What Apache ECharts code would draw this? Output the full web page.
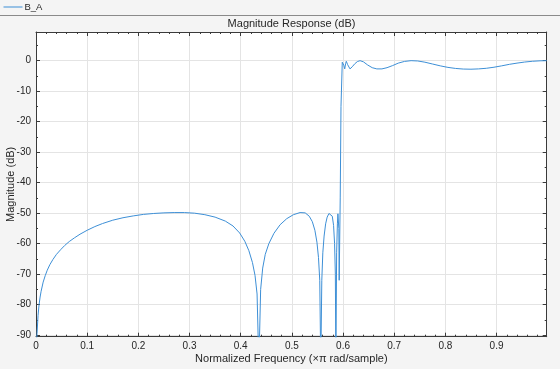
<!DOCTYPE html>
<html>
<head>
<meta charset="utf-8">
<script src="https://cdn.jsdelivr.net/npm/echarts@6/dist/echarts.min.js"></script>
<style>
html,body{margin:0;padding:0;background:#f4f4f4;}
#chart{width:560px;height:369px;}
</style>
</head>
<body>
<div id="chart"></div>
<script>
// ---- data ----
const seriesName = 'B_A';
const freq = [
  0, 0.002, 0.004, 0.006, 0.008, 0.010, 0.014, 0.018, 0.022, 0.027,
  0.033, 0.040, 0.048, 0.056, 0.065, 0.075, 0.086, 0.100, 0.115, 0.130,
  0.150, 0.170, 0.190, 0.210, 0.230, 0.250, 0.270, 0.290, 0.310, 0.330,
  0.350, 0.370, 0.385, 0.398, 0.408, 0.416, 0.423, 0.428, 0.432, 0.4355,
  0.439, 0.443, 0.448, 0.455, 0.465, 0.477, 0.490, 0.503, 0.516, 0.526,
  0.534, 0.540, 0.545, 0.549, 0.552, 0.5545, 0.5565, 0.5585, 0.5605, 0.563,
  0.566, 0.569, 0.5725, 0.576, 0.579, 0.5815, 0.5835, 0.585, 0.586, 0.5875,
  0.589, 0.590, 0.591, 0.5918, 0.5925, 0.5945, 0.596, 0.5985, 0.5996, 0.6015,
  0.6033, 0.605, 0.6064, 0.609, 0.6136, 0.618, 0.623, 0.628, 0.6333, 0.640,
  0.648, 0.657, 0.666, 0.676, 0.686, 0.697, 0.708, 0.720, 0.733, 0.746,
  0.760, 0.775, 0.790, 0.805, 0.820, 0.835, 0.850, 0.865, 0.880, 0.895,
  0.910, 0.925, 0.940, 0.955, 0.970, 0.985, 0.998
];
const magDb = [
  -96, -89.5, -83.5, -80, -77.5, -75.6, -72.6, -70.5, -68.7, -66.9,
  -65.2, -63.5, -62, -60.6, -59.3, -58.1, -56.9, -55.6, -54.4, -53.4,
  -52.3, -51.5, -50.9, -50.4, -50.1, -49.9, -49.8, -49.8, -50.0, -50.5,
  -51.3, -52.6, -54.2, -56.5, -59.2, -62.3, -66.2, -70.4, -76.5, -100,
  -75, -68, -63.5, -60, -56.6, -53.8, -51.8, -50.5, -49.8, -49.9,
  -51, -52.8, -55.6, -59.5, -64.5, -72, -100, -72, -63, -57.5,
  -53.5, -51.3, -50.1, -49.8, -51, -54, -60, -70, -100, -63,
  -53.5, -50.2, -50.4, -55, -72, -45, -15, -0.5, 0, -1.5,
  -2.7, -1, -0.2, -1.3, -2.7, -2, -1, -0.3, 0, -0.4,
  -1.4, -2.3, -2.7, -2.7, -2.3, -1.6, -0.8, -0.25, 0, -0.1,
  -0.5, -1.1, -1.7, -2.2, -2.55, -2.75, -2.8, -2.7, -2.5, -2.15,
  -1.7, -1.2, -0.8, -0.45, -0.2, -0.05, 0
];
const xTicks = [0, 0.1, 0.2, 0.3, 0.4, 0.5, 0.6, 0.7, 0.8, 0.9];
const xMinorTicks = [
  0.02, 0.04, 0.06, 0.08, 0.12, 0.14, 0.16, 0.18, 0.22, 0.24, 0.26, 0.28,
  0.32, 0.34, 0.36, 0.38, 0.42, 0.44, 0.46, 0.48, 0.52, 0.54, 0.56, 0.58,
  0.62, 0.64, 0.66, 0.68, 0.72, 0.74, 0.76, 0.78, 0.82, 0.84, 0.86, 0.88,
  0.92, 0.94, 0.96, 0.98
];
const yTicks = [-90, -80, -70, -60, -50, -40, -30, -20, -10, 0];
const yMinorTicks = [-85, -75, -65, -55, -45, -35, -25, -15, -5, 5];
const xRange = [0, 0.998];
const yRange = [-90.5, 9.4];
const titleText = 'Magnitude Response (dB)';
const xName = 'Normalized Frequency (\u00d7\u03c0 rad/sample)';
const yName = 'Magnitude (dB)';

// ---- chart ----
const FONT = '"Liberation Sans", Arial, Helvetica, sans-serif';
const AXIS_COLOR = '#3a3a3a';
const GRID_COLOR = '#e4e4e4';
const TEXT_COLOR = '#262626';
const LINE_COLOR = '#3d8fd6';

function tickAxis(kind, position, values, len, showLine, extra) {
  const range = kind === 'x' ? xRange : yRange;
  return Object.assign({
    type: 'value',
    position: position,
    min: range[0],
    max: range[1],
    axisLine: { show: showLine, onZero: false, lineStyle: { color: AXIS_COLOR, width: 1 } },
    axisTick: { show: true, inside: true, length: len, customValues: values, lineStyle: { color: AXIS_COLOR, width: 1 } },
    axisLabel: { show: false },
    splitLine: { show: false }
  }, extra || {});
}

const chart = echarts.init(document.getElementById('chart'), null, { renderer: 'canvas' });
const data = freq.map((f, i) => [f, magDb[i]]);

chart.setOption({
  animation: false,
  backgroundColor: '#f4f4f4',
  textStyle: { fontFamily: FONT },
  title: {
    text: titleText,
    left: 291.5,
    top: 18,
    textAlign: 'center',
    padding: 0,
    textStyle: { fontFamily: FONT, fontSize: 11, fontWeight: 'normal', color: TEXT_COLOR }
  },
  legend: {
    left: 3,
    top: 2,
    padding: 0,
    itemWidth: 19,
    itemHeight: 10,
    itemGap: 10,
    itemStyle: { opacity: 0 },
    lineStyle: { width: 1 },
    textStyle: { fontFamily: FONT, fontSize: 9.5, color: TEXT_COLOR, padding: [0, 0, 0, -3] },
    data: [seriesName]
  },
  graphic: [
    { type: 'line', silent: true, shape: { x1: 0, y1: 15.5, x2: 560, y2: 15.5 }, style: { stroke: '#8a8a8a', lineWidth: 1 } }
  ],
  grid: {
    left: 36, right: 13.3, top: 32, bottom: 32.3,
    containLabel: false,
    outerBoundsMode: 'none',
    show: true, backgroundColor: '#ffffff', borderWidth: 0
  },
  xAxis: [
    tickAxis('x', 'bottom', xTicks, 4, true, {
      axisLabel: { show: true, customValues: xTicks, fontSize: 10, color: TEXT_COLOR, margin: 5, fontFamily: FONT },
      splitLine: { show: true, lineStyle: { color: GRID_COLOR, width: 1 } },
      name: xName,
      nameLocation: 'middle',
      nameGap: 17,
      nameMoveOverlap: false,
      nameTextStyle: { fontSize: 11, color: TEXT_COLOR, fontFamily: FONT }
    }),
    tickAxis('x', 'bottom', xMinorTicks, 2, false),
    tickAxis('x', 'top', xTicks, 4, true),
    tickAxis('x', 'top', xMinorTicks, 2, false)
  ],
  yAxis: [
    tickAxis('y', 'left', yTicks, 4, true, {
      axisLabel: { show: true, customValues: yTicks, fontSize: 10, color: TEXT_COLOR, margin: 5, fontFamily: FONT },
      splitLine: { show: true, lineStyle: { color: GRID_COLOR, width: 1 } },
      name: yName,
      nameLocation: 'middle',
      nameGap: 20,
      nameMoveOverlap: false,
      nameTextStyle: { fontSize: 11, color: TEXT_COLOR, fontFamily: FONT }
    }),
    tickAxis('y', 'left', yMinorTicks, 2, false),
    tickAxis('y', 'right', yTicks, 4, true),
    tickAxis('y', 'right', yMinorTicks, 2, false)
  ],
  series: [{
    name: seriesName,
    type: 'line',
    xAxisIndex: 0,
    yAxisIndex: 0,
    data: data,
    showSymbol: false,
    symbol: 'none',
    clip: true,
    color: LINE_COLOR,
    itemStyle: { color: LINE_COLOR },
    lineStyle: { color: LINE_COLOR, width: 1 }
  }]
});
</script>
</body>
</html>
